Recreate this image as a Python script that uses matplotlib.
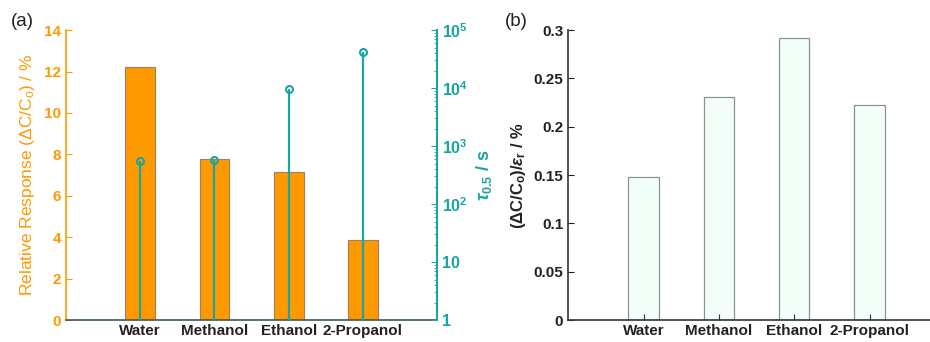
import matplotlib
matplotlib.use("Agg")
import matplotlib.pyplot as plt
import numpy as np

solvents = ["Water", "Methanol", "Ethanol", "2-Propanol"]
rel_response = [12.2, 7.8, 7.15, 3.85]
tau_half = [550, 580, 9600, 42000]
norm_response = [0.148, 0.231, 0.292, 0.223]

orange = "#ff9900"
teal = "#1aa5a0"
dark = "#333333"

plt.rcParams["font.family"] = ["Liberation Sans", "DejaVu Sans"]
plt.rcParams["font.weight"] = "bold"
plt.rcParams["mathtext.fontset"] = "custom"
plt.rcParams["mathtext.rm"] = "Liberation Sans:bold"
plt.rcParams["mathtext.it"] = "Liberation Sans:italic:bold"
plt.rcParams["mathtext.bf"] = "Liberation Sans:bold"

fig = plt.figure(figsize=(9.3, 3.42), dpi=100)
x = np.arange(1, len(solvents) + 1)

# panel (a)
ax = fig.add_axes([0.071, 0.064, 0.399, 0.848])
ax.bar(x, rel_response, width=0.4, color=orange, edgecolor="#a08060", linewidth=0.8, zorder=2)
ax.set_xlim(0, 5)
ax.set_ylim(0, 14)
ax.set_yticks(range(0, 15, 2))
ax.set_xticks(x)
ax.set_xticklabels(solvents, fontsize=11, color="#222222")
ax.tick_params(axis="x", direction="in", length=0, pad=3)
ax.tick_params(axis="y", direction="in", colors=orange, labelsize=11, length=4)
ax.spines["left"].set_color(orange)
ax.spines["left"].set_linewidth(1.2)
ax.spines["bottom"].set_color("#3a5a58")
ax.spines["bottom"].set_linewidth(1.2)
ax.spines["top"].set_visible(False)
ax.spines["right"].set_visible(False)
ax.set_ylabel("Relative Response (\u0394C/C$_\\mathregular{o}$) / %", color=orange,
              fontsize=12.5, fontweight="normal", labelpad=5)

ax2 = ax.twinx()
ax2.set_yscale("log")
ax2.set_ylim(1, 1e5)
ax2.vlines(x, 1, tau_half, color=teal, linewidth=1.6, zorder=3)
ax2.plot(x, tau_half, "o", mfc="none", mec=teal, mew=1.5, ms=5, zorder=4)
ax2.set_yticks([1, 10, 100, 1000, 1e4, 1e5])
ax2.set_yticklabels(["1", "10", r"10$^2$", r"10$^3$", r"10$^4$", r"10$^5$"])
ax2.tick_params(axis="y", which="both", direction="in", colors=teal, labelsize=11.5)
ax2.tick_params(axis="y", which="major", length=4)
ax2.tick_params(axis="y", which="minor", length=2)
for s in ["left", "top", "bottom"]:
    ax2.spines[s].set_visible(False)
ax2.spines["right"].set_color(teal)
ax2.spines["right"].set_linewidth(1.5)
ax2.set_ylabel(r"$\tau_{\mathbf{0.5}}$ / s", color=teal, fontsize=13,
               fontweight="bold", labelpad=4)
ax.set_zorder(ax2.get_zorder() - 1)
ax2.patch.set_visible(False)
ax.patch.set_visible(False)

fig.text(0.012, 0.925, "(a)", fontsize=13.5, fontweight="normal", color="#222222")

# panel (b)
bx = fig.add_axes([0.611, 0.064, 0.405, 0.848])
bx.bar(x, norm_response, width=0.4, color="#f2fff8", edgecolor="#909090", linewidth=0.9)
bx.set_xlim(0, 5)
bx.set_ylim(0, 0.3)
bx.set_yticks([0, 0.05, 0.1, 0.15, 0.2, 0.25, 0.3])
bx.set_yticklabels(["0", "0.05", "0.1", "0.15", "0.2", "0.25", "0.3"])
bx.set_xticks(x)
bx.set_xticklabels(solvents, fontsize=11, color="#222222")
bx.tick_params(axis="x", direction="in", length=4, pad=3, colors="#333333", labelcolor="#222222")
bx.tick_params(axis="y", direction="in", length=4, labelsize=11, colors="#222222")
bx.spines["top"].set_visible(False)
bx.spines["right"].set_visible(False)
bx.spines["left"].set_color(dark)
bx.spines["bottom"].set_color(dark)
bx.spines["left"].set_linewidth(1.2)
bx.spines["bottom"].set_linewidth(1.2)
bx.set_ylabel(r"($\Delta$C/C$_\mathrm{o}$)/$\epsilon_\mathrm{r}$ / %", color="#222222",
              fontsize=12, fontweight="bold", labelpad=4)

fig.text(0.543, 0.925, "(b)", fontsize=13.5, fontweight="normal", color="#222222")

fig.savefig("out.png", dpi=100)
